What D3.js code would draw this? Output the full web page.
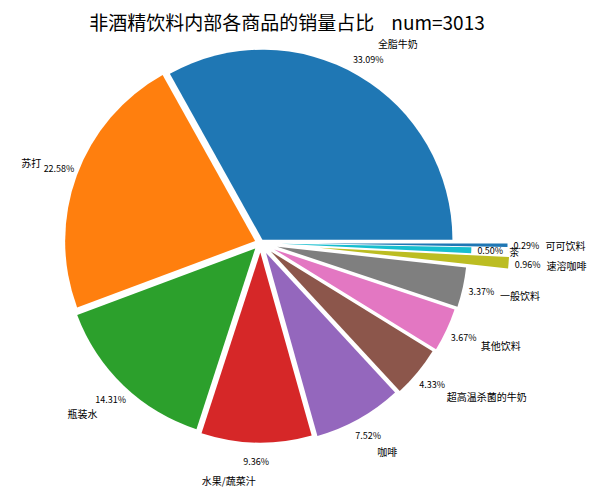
<!DOCTYPE html>
<html>
<head>
<meta charset="utf-8">
<script src="https://cdn.jsdelivr.net/npm/d3@7"></script>
<style>
    body { margin: 0; background: white; }
    text { font-family: "Noto Sans CJK SC", "DejaVu Sans", sans-serif; fill: #000; }
</style>
</head>
<body>
<div id="chart"></div>
<script>

WIDTH = 595;
HEIGHT = 494;

CX = 260.5;
CY = 243;
RADIUS = 190;

LABEL_DIST = 1.2;
PCT_DIST = 1.1;

// data

var names = ['全脂牛奶', '苏打', '瓶装水', '水果/蔬菜汁', '咖啡', '超高温杀菌的牛奶',
             '其他饮料', '一般饮料', '速溶咖啡', '茶', '可可饮料'];
var shares = [33.09, 22.58, 14.31, 9.36, 7.52, 4.33, 3.67, 3.37, 0.96, 0.50, 0.29];
var explode = [0.02, 0.03, 0.04, 0.05, 0.06, 0.07, 0.08, 0.09, 0.31, 0.11, 0.3];
var total_num = 3013;
var title_text = '非酒精饮料内部各商品的销量占比    num=' + total_num;

var colours = ['#1f77b4', '#ff7f0e', '#2ca02c', '#d62728', '#9467bd', '#8c564b',
               '#e377c2', '#7f7f7f', '#bcbd22', '#17becf'];


function slice_colour(i) { return colours[i % colours.length]; }


// d3 angles run clockwise from 12 o'clock; matplotlib starts at 3 o'clock
// and goes anticlockwise

function mid_angle(d) { return (d.startAngle + d.endAngle) / 2; }

function offset(d, dist) {
    var a = mid_angle(d);
    var k = (explode[d.index] + dist) * RADIUS;
    return [Math.sin(a) * k, -Math.cos(a) * k];
}


function draw_pie() {
    var svg = d3.select("#chart").append("svg")
        .attr("width", WIDTH)
        .attr("height", HEIGHT);

    svg.append("rect")
        .attr("width", WIDTH)
        .attr("height", HEIGHT)
        .attr("fill", "white");

    var pie = d3.pie()
        .sort(null)
        .startAngle(Math.PI / 2)
        .endAngle(Math.PI / 2 - 2 * Math.PI);

    var arc = d3.arc()
        .innerRadius(0)
        .outerRadius(RADIUS);

    var slices = pie(shares);

    var chart = svg.append("g")
        .attr("transform", "translate(" + CX + "," + CY + ")");

    chart.append("g")
        .attr("class", "wedges")
        .selectAll("path")
        .data(slices).enter()
        .append("path")
        .attr("transform", function (d) {
            return "translate(" + offset(d, 0) + ")";
        })
        .attr("d", arc)
        .attr("fill", function (d) { return slice_colour(d.index); });

    chart.append("g")
        .attr("class", "labels")
        .selectAll("text")
        .data(slices).enter()
        .append("text")
        .attr("x", function (d) { return offset(d, LABEL_DIST)[0]; })
        .attr("y", function (d) { return offset(d, LABEL_DIST)[1]; })
        .attr("dominant-baseline", "central")
        .attr("text-anchor", function (d) {
            return Math.sin(mid_angle(d)) > 0 ? "start" : "end";
        })
        .style("font-size", "10px")
        .text(function (d) { return names[d.index]; });

    chart.append("g")
        .attr("class", "pcts")
        .selectAll("text")
        .data(slices).enter()
        .append("text")
        .attr("x", function (d) { return offset(d, PCT_DIST)[0]; })
        .attr("y", function (d) { return offset(d, PCT_DIST)[1]; })
        .attr("dominant-baseline", "central")
        .attr("text-anchor", "middle")
        .style("font-size", "9px")
        .text(function (d) { return shares[d.index].toFixed(2) + '%'; });

    svg.append("text")
        .attr("x", 287)
        .attr("y", 21)
        .attr("dominant-baseline", "central")
        .attr("text-anchor", "middle")
        .style("font-size", "19px")
        .style("white-space", "pre")
        .attr("xml:space", "preserve")
        .text(title_text);
}

draw_pie();

</script>
</body>
</html>
